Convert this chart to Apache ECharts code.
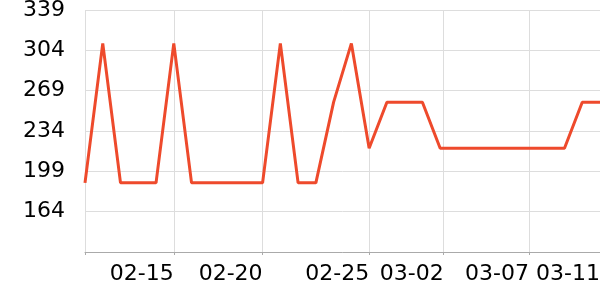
<!DOCTYPE html>
<html>
<head>
<meta charset="utf-8">
<script src="https://cdn.jsdelivr.net/npm/echarts@6/dist/echarts.min.js"></script>
<style>html,body{margin:0;padding:0;background:#fff}#c{width:600px;height:300px}</style>
</head>
<body>
<div id="c"></div>
<script>
// Series values, one per day index
var values = [189, 310, 189, 189, 189, 310, 189, 189, 189, 189,
              189, 310, 189, 189, 259, 310, 219, 259, 259, 259,
              219, 219, 219, 219, 219, 219, 219, 219, 259, 259];
// X-axis tick positions (in day index units) and their labels
var tickPositions = [0, 5, 10, 16, 20.2, 25, 29];
var tickLabels    = ['', '02-15', '02-20', '02-25', '03-02', '03-07', '03-11'];
// Y-axis scale
var yMin = 129, yMax = 339, yStep = 35;

var points = values.map(function (v, i) { return [i, v]; });
var labelPositions = tickPositions.filter(function (p, i) { return tickLabels[i] !== ''; });

var chart = echarts.init(document.getElementById('c'), null, {renderer: 'canvas'});
chart.setOption({
  animation: false,
  textStyle: {fontFamily: 'DejaVu Sans'},
  grid: {left: 85, right: 0, top: 10, bottom: 48, containLabel: false, outerBoundsMode: 'none'},
  xAxis: {
    type: 'value',
    min: 0,
    max: values.length - 1,
    axisLine: {show: true, lineStyle: {color: '#aaa', width: 1}},
    axisTick: {show: true, length: 3, lineStyle: {color: '#aaa'}, customValues: tickPositions},
    splitLine: {show: true, lineStyle: {color: '#ddd', width: 1}},
    axisLabel: {
      customValues: labelPositions,
      align: 'right',
      margin: 11,
      fontSize: 22,
      color: '#000',
      fontFamily: 'DejaVu Sans',
      formatter: function (val) {
        var k = tickPositions.indexOf(val);
        return k >= 0 ? tickLabels[k] : '';
      }
    }
  },
  yAxis: {
    type: 'value',
    min: yMin,
    max: yMax,
    interval: yStep,
    axisLine: {show: false},
    axisTick: {show: false},
    splitLine: {show: true, lineStyle: {color: '#ddd', width: 1}},
    axisLabel: {
      showMinLabel: false,
      margin: 20,
      fontSize: 22,
      color: '#000',
      fontFamily: 'DejaVu Sans'
    }
  },
  series: [{
    type: 'line',
    data: points,
    showSymbol: false,
    symbol: 'none',
    lineStyle: {color: '#ee4a2c', width: 3},
    itemStyle: {color: '#ee4a2c'}
  }]
});
</script>
</body>
</html>
